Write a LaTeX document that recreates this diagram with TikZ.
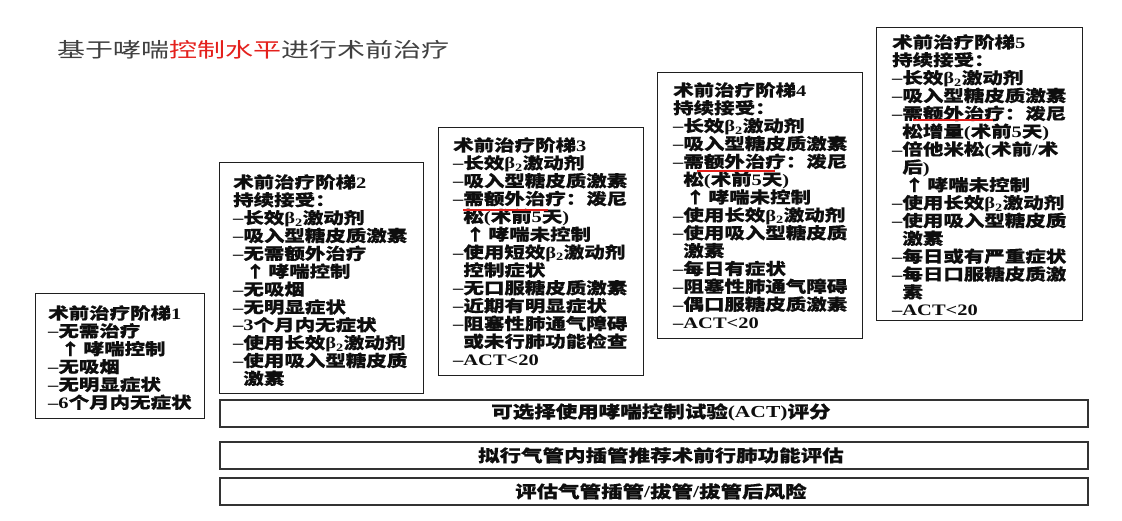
\documentclass[tikz,border=0pt]{standalone}
\usepackage{fontspec}
\setmainfont{Noto Sans CJK SC}[FakeStretch=1.28, BoldFeatures={FakeBold=0.5}]
\newfontfamily\titlefont{Noto Sans CJK SC}[FakeStretch=1.38]
\newfontfamily\latf{Liberation Serif}[FakeStretch=1.28]
\definecolor{tred}{RGB}{228,32,28}
\definecolor{ink}{RGB}{14,14,14}
\newcommand\ltn[1]{{\latf\bfseries #1}}
\newcommand\bta{\ltn{β\textsubscript{2}}}
\newcommand\dd{\ltn{–}}
\newcommand\ind{\hphantom{\dd}}
\newcommand\upar{\hspace*{12pt}↑\hspace{3pt}}
\begin{document}
\begin{tikzpicture}[x=1pt,y=-1pt,
  stepbox/.style={draw=black!88, line width=1.4pt, anchor=north west, inner sep=0, fill=white},
  steptxt/.style={anchor=north west, inner sep=0, align=left, text=ink,
    font=\bfseries\fontsize{16}{17.85}\selectfont},
  barbox/.style={draw=black!80, line width=1.8pt, anchor=north west, inner sep=0,
    minimum width=868pt, minimum height=27pt},
  bartxt/.style={inner sep=0, text=ink, font=\bfseries\fontsize{16.8}{18}\selectfont},
  redline/.style={draw=tred, line width=1.8pt}]
\useasboundingbox (0,0) rectangle (1122,521);
\fill[white] (0,0) rectangle (1122,521);

% title
\node[anchor=west, inner sep=0, text=black!75, font=\titlefont\fontsize{20.3}{24}\selectfont] (title) at (57,50)
  {基于哮喘{\color{tred}控制水平}进行术前治疗};

% step boxes
\node[stepbox, minimum width=169pt, minimum height=125pt] (b1) at (35,293) {};
\node[stepbox, minimum width=204pt, minimum height=231pt] (b2) at (219,162) {};
\node[stepbox, minimum width=205pt, minimum height=248pt] (b3) at (438,127) {};
\node[stepbox, minimum width=205pt, minimum height=266pt] (b4) at (657,72) {};
\node[stepbox, minimum width=206pt, minimum height=293pt] (b5) at (876,27) {};

\node[steptxt] (t1) at ([shift={(13,12)}]b1.north west) {%
术前治疗阶梯\ltn{1}\\
\dd 无需治疗\\
\upar 哮喘控制\\
\dd 无吸烟\\
\dd 无明显症状\\
\dd \ltn{6}个月内无症状};

\node[steptxt] (t2) at ([shift={(14,12)}]b2.north west) {%
术前治疗阶梯\ltn{2}\\
持续接受：\\
\dd 长效\bta 激动剂\\
\dd 吸入型糖皮质激素\\
\dd 无需额外治疗\\
\upar 哮喘控制\\
\dd 无吸烟\\
\dd 无明显症状\\
\dd \ltn{3}个月内无症状\\
\dd 使用长效\bta 激动剂\\
\dd 使用吸入型糖皮质\\
\ind 激素};

\node[steptxt] (t3) at ([shift={(15,10)}]b3.north west) {%
术前治疗阶梯\ltn{3}\\
\dd 长效\bta 激动剂\\
\dd 吸入型糖皮质激素\\
\dd 需额外治疗：泼尼\\
\ind 松\ltn{(}术前\ltn{5}天\ltn{)}\\
\upar 哮喘未控制\\
\dd 使用短效\bta 激动剂\\
\ind 控制症状\\
\dd 无口服糖皮质激素\\
\dd 近期有明显症状\\
\dd 阻塞性肺通气障碍\\
\ind 或未行肺功能检查\\
\dd \ltn{ACT<20}};

\node[steptxt] (t4) at ([shift={(16,10)}]b4.north west) {%
术前治疗阶梯\ltn{4}\\
持续接受：\\
\dd 长效\bta 激动剂\\
\dd 吸入型糖皮质激素\\
\dd 需额外治疗：泼尼\\
\ind 松\ltn{(}术前\ltn{5}天\ltn{)}\\
\upar 哮喘未控制\\
\dd 使用长效\bta 激动剂\\
\dd 使用吸入型糖皮质\\
\ind 激素\\
\dd 每日有症状\\
\dd 阻塞性肺通气障碍\\
\dd 偶口服糖皮质激素\\
\dd \ltn{ACT<20}};

\node[steptxt] (t5) at ([shift={(16,7)}]b5.north west) {%
术前治疗阶梯\ltn{5}\\
持续接受：\\
\dd 长效\bta 激动剂\\
\dd 吸入型糖皮质激素\\
\dd 需额外治疗：泼尼\\
\ind 松增量\ltn{(}术前\ltn{5}天\ltn{)}\\
\dd 倍他米松\ltn{(}术前\ltn{/}术\\
\ind 后\ltn{)}\\
\upar 哮喘未控制\\
\dd 使用长效\bta 激动剂\\
\dd 使用吸入型糖皮质\\
\ind 激素\\
\dd 每日或有严重症状\\
\dd 每日口服糖皮质激\\
\ind 素\\
\dd \ltn{ACT<20}};

% red underlines
\draw[redline] (463,210) -- (548,210);
\draw[redline] (697,171) -- (775,171);
\draw[redline] (913,120) -- (993,120);

% bars
\node[barbox] (r1) at (219,399) {};
\node[barbox] (r2) at (219,441) {};
\node[barbox] (r3) at (219,477) {};
\node[bartxt] (s1) at ([xshift=7pt,yshift=1pt]r1.center) {可选择使用哮喘控制试验\ltn{(ACT)}评分};
\node[bartxt] (s2) at ([xshift=7pt]r2.center) {拟行气管内插管推荐术前行肺功能评估};
\node[bartxt] (s3) at ([xshift=7pt]r3.center) {评估气管插管\ltn{/}拔管\ltn{/}拔管后风险};
\end{tikzpicture}
\end{document}
